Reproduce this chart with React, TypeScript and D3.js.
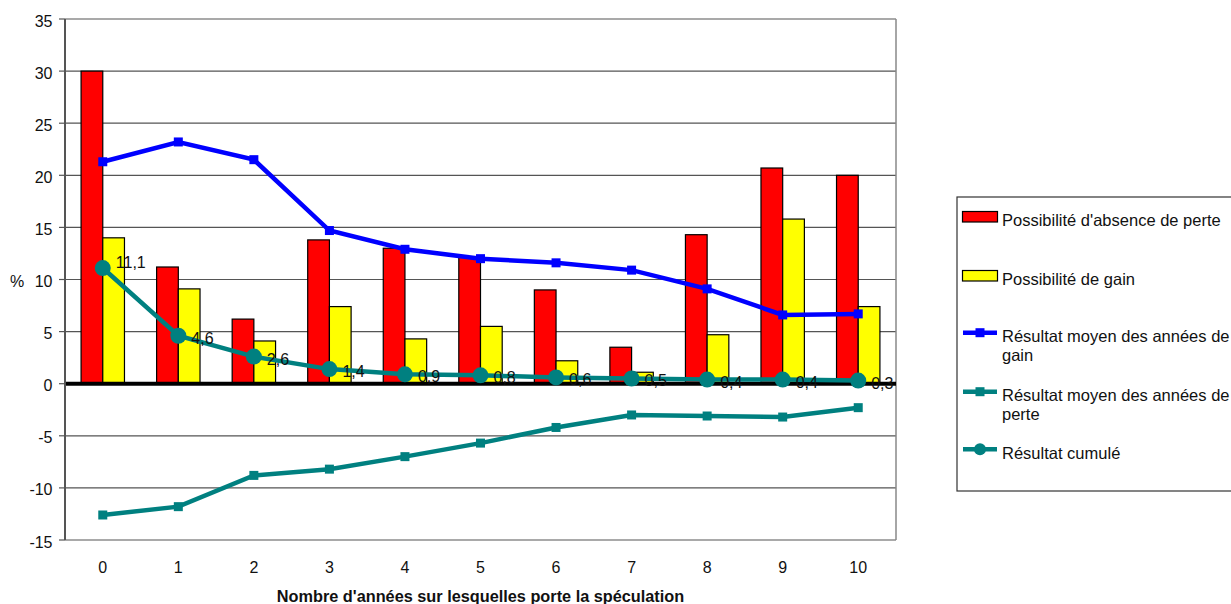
import React from "react";
import * as d3 from "d3";

const categories = ["0", "1", "2", "3", "4", "5", "6", "7", "8", "9", "10"];
const absencePerte = [30, 11.2, 6.2, 13.8, 13.0, 12.2, 9.0, 3.5, 14.3, 20.7, 20.0];
const possibiliteGain = [14.0, 9.1, 4.1, 7.4, 4.3, 5.5, 2.2, 1.1, 4.7, 15.8, 7.4];
const moyenGain = [21.3, 23.2, 21.5, 14.7, 12.9, 12.0, 11.6, 10.9, 9.1, 6.6, 6.7];
const moyenPerte = [-12.6, -11.8, -8.8, -8.2, -7.0, -5.7, -4.2, -3.0, -3.1, -3.2, -2.3];
const cumule = [11.1, 4.6, 2.6, 1.4, 0.9, 0.8, 0.6, 0.5, 0.4, 0.4, 0.3];
const cumuleLabels = ["11,1", "4,6", "2,6", "1,4", "0,9", "0,8", "0,6", "0,5", "0,4", "0,4", "0,3"];
const yTicks = [-15, -10, -5, 0, 5, 10, 15, 20, 25, 30, 35];

const FONT = "'Liberation Sans', Arial, sans-serif";
const TEAL = "#008080";
const BLUE = "#0000ff";

export default function App() {
  const left = 65, right = 896, top = 19, bottom = 540;
  const x = d3.scaleBand<string>().domain(categories).range([left, right]).paddingInner(0).paddingOuter(0);
  const y = d3.scaleLinear().domain([-15, 35]).range([bottom, top]);
  const cx = (i: number) => (x(categories[i]) as number) + x.bandwidth() / 2;
  const barW = 21.7;

  const line = d3.line<number>().x((_, i) => cx(i)).y((d) => y(d));

  return (
    <div style={{ position: "fixed", left: 0, top: 0 }}>
      <svg width={1231} height={604} style={{ display: "block", fontFamily: FONT }}>
        <rect x={0} y={0} width={1231} height={604} fill="#fff" />
        {/* gridlines */}
        {yTicks.map((t) => (
          <line key={t} x1={left} x2={right} y1={y(t)} y2={y(t)} stroke="#555" strokeWidth={1.2} />
        ))}
        {/* right border */}
        <line x1={right} x2={right} y1={top} y2={bottom} stroke="#888" strokeWidth={1.5} />
        {/* y ticks & labels */}
        {yTicks.map((t) => (
          <g key={"t" + t}>
            <line x1={left - 6} x2={left} y1={y(t)} y2={y(t)} stroke="#555" strokeWidth={1.2} />
            <text x={52.5} y={y(t) + 7.5} textAnchor="end" fontSize={16} fill="#111">{t}</text>
          </g>
        ))}
        <text x={10} y={287} fontSize={16} fill="#111">%</text>
        {/* bars */}
        {absencePerte.map((v, i) => (
          <rect key={"r" + i} x={cx(i) - barW} y={y(v)} width={barW} height={y(0) - y(v)} fill="#ff0000" stroke="#000" strokeWidth={1.2} />
        ))}
        {possibiliteGain.map((v, i) => (
          <rect key={"yb" + i} x={cx(i)} y={y(v)} width={barW} height={y(0) - y(v)} fill="#ffff00" stroke="#000" strokeWidth={1.2} />
        ))}
        {/* zero line */}
        <line x1={left} x2={right} y1={y(0)} y2={y(0)} stroke="#000" strokeWidth={4} />
        {/* left axis */}
        <line x1={left} x2={left} y1={top} y2={bottom} stroke="#555" strokeWidth={2} />
        {/* blue line */}
        <path d={line(moyenGain) || ""} fill="none" stroke={BLUE} strokeWidth={4.5} />
        {moyenGain.map((v, i) => (
          <rect key={"bm" + i} x={cx(i) - 4.5} y={y(v) - 4.5} width={9} height={9} fill={BLUE} />
        ))}
        {/* teal loss line */}
        <path d={line(moyenPerte) || ""} fill="none" stroke={TEAL} strokeWidth={4.5} />
        {moyenPerte.map((v, i) => (
          <rect key={"tm" + i} x={cx(i) - 4.5} y={y(v) - 4.5} width={9} height={9} fill={TEAL} />
        ))}
        {/* cumulative */}
        <path d={line(cumule) || ""} fill="none" stroke={TEAL} strokeWidth={4.5} />
        {cumule.map((v, i) => (
          <circle key={"cm" + i} cx={cx(i)} cy={y(v)} r={8} fill={TEAL} />
        ))}
        {cumule.map((v, i) => (
          <text key={"cl" + i} x={cx(i) + 13} y={y(v) + (i === 0 ? -6 : 2.5)} dominantBaseline="central" fontSize={16} fill="#111">{cumuleLabels[i]}</text>
        ))}
        {/* x labels */}
        {categories.map((c, i) => (
          <text key={"x" + c} x={cx(i)} y={572.5} textAnchor="middle" fontSize={16} fill="#111">{c}</text>
        ))}
        <text x={(left + right) / 2} y={601.5} textAnchor="middle" fontSize={16.3} fontWeight="bold" fill="#111">
          Nombre d'années sur lesquelles porte la spéculation
        </text>
        {/* legend */}
        <rect x={957} y={197} width={290} height={294} fill="#fff" stroke="#333" strokeWidth={1.2} />
        <rect x={962.5} y={211.5} width={35} height={10.5} fill="#ff0000" stroke="#000" strokeWidth={1.2} />
        <text x={1002} y={225.5} fontSize={16.5} fill="#111">Possibilité d'absence de perte</text>
        <rect x={962.5} y={270.5} width={35} height={10.5} fill="#ffff00" stroke="#000" strokeWidth={1.2} />
        <text x={1002} y={284.5} fontSize={16.5} fill="#111">Possibilité de gain</text>
        <line x1={963} x2={997} y1={332.7} y2={332.7} stroke={BLUE} strokeWidth={4.5} />
        <rect x={975.5} y={328.2} width={9} height={9} fill={BLUE} />
        <text x={1002} y={341.7} fontSize={16.5} fill="#111">Résultat moyen des années de</text>
        <text x={1002} y={360.7} fontSize={16.5} fill="#111">gain</text>
        <line x1={963} x2={997} y1={391.7} y2={391.7} stroke={TEAL} strokeWidth={4.5} />
        <rect x={975.5} y={387.2} width={9} height={9} fill={TEAL} />
        <text x={1002} y={400.7} fontSize={16.5} fill="#111">Résultat moyen des années de</text>
        <text x={1002} y={419.7} fontSize={16.5} fill="#111">perte</text>
        <line x1={963} x2={997} y1={449.3} y2={449.3} stroke={TEAL} strokeWidth={4.5} />
        <circle cx={980} cy={449.3} r={6} fill={TEAL} />
        <text x={1002} y={459.3} fontSize={16.5} fill="#111">Résultat cumulé</text>
      </svg>
    </div>
  );
}
